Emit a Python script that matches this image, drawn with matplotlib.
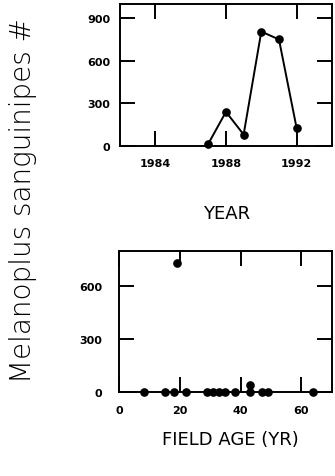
import matplotlib
matplotlib.use("Agg")
import matplotlib.pyplot as plt

years = [1987, 1988, 1989, 1990, 1991, 1992]
year_counts = [15, 240, 80, 805, 750, 125]

field_ages = [8, 15, 18, 19, 22, 29, 31, 33, 35, 38, 43, 43, 47, 49, 64]
age_counts = [0, 0, 0, 730, 0, 0, 0, 0, 0, 0, 0, 40, 0, 0, 0]

year_ticks = [1984, 1988, 1992]
count_ticks_top = [0, 300, 600, 900]
age_ticks = [0, 20, 40, 60]
count_ticks_bottom = [0, 300, 600]

plt.rcParams['font.family'] = ['DejaVu Sans']

fig = plt.figure(figsize=(3.35, 4.77), dpi=100)
ax1 = fig.add_axes([0.358, 0.692, 0.633, 0.2977])
ax2 = fig.add_axes([0.356, 0.1755, 0.634, 0.296])

def style(ax, ypad):
    for s in ax.spines.values():
        s.set_linewidth(1.4)
        s.set_color('black')
    ax.tick_params(axis='both', which='major', direction='in', length=11, width=1.4,
                   top=True, right=True, labelsize=8)
    ax.tick_params(axis='x', pad=9)
    ax.tick_params(axis='y', pad=ypad)
    for lab in ax.get_xticklabels() + ax.get_yticklabels():
        lab.set_fontweight('bold')

ax1.plot(years, year_counts, color='black', lw=1.4, marker='o', ms=5.2, clip_on=False)
ax1.set_xlim(1982, 1994)
ax1.set_ylim(0, 1000)
ax1.set_xticks(year_ticks)
ax1.set_yticks(count_ticks_top)
style(ax1, 7)

ax2.plot(field_ages, age_counts, linestyle='none', color='black', marker='o', ms=5.2, clip_on=False)
ax2.set_xlim(0, 70)
ax2.set_ylim(0, 800)
ax2.set_xticks(age_ticks)
ax2.set_yticks(count_ticks_bottom)
style(ax2, 12)

fig.text(0.675, 1 - 214 / 477, 'YEAR', ha='center', va='center', fontsize=13)
fig.text(0.687, 1 - 440 / 477, 'FIELD AGE (YR)', ha='center', va='center', fontsize=13)
fig.text(23 / 335, 1 - 201 / 477, 'Melanoplus sanguinipes #', rotation=90,
         ha='center', va='center', fontsize=20, fontweight='light')

fig.savefig('out.png', dpi=100)
